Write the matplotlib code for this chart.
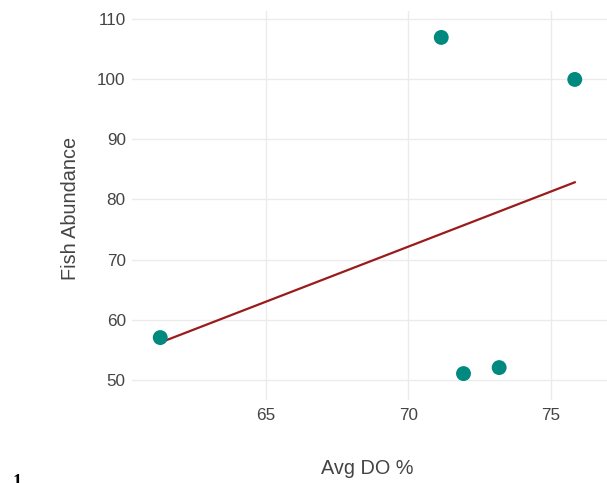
import numpy as np
import matplotlib
matplotlib.use("Agg")
import matplotlib.pyplot as plt

plt.rcParams['font.family'] = ['Liberation Sans', 'DejaVu Sans']

# avg dissolved oxygen (%) vs fish abundance per site
avg_do = [61.3, 71.15, 75.83, 71.93, 73.18]
fish = [57, 107, 100, 51, 52]

fig = plt.figure(figsize=(6.07, 4.83), dpi=100)
ax = fig.add_axes([132/607, 83/483, 475/607, 389/483])

# linear fit line
slope, icpt = np.polyfit(avg_do, fish, 1)
xs = np.array([min(avg_do), max(avg_do)])
ax.plot(xs, slope*xs + icpt, color='#9b1b1b', lw=1.6, zorder=2)
ax.scatter(avg_do, fish, s=115, color='#00897f', edgecolors='none', zorder=3)

ax.set_xlim(60.31, 76.96)
ax.set_ylim(46.6, 111.4)
ax.set_xticks([65, 70, 75])
ax.set_yticks([50, 60, 70, 80, 90, 100, 110])
ax.grid(True, color='#ebebeb', lw=1)
ax.set_axisbelow(True)
for s in ax.spines.values():
    s.set_visible(False)
ax.tick_params(length=0, labelsize=12.3, labelcolor='#444444')
ax.tick_params(axis='x', pad=6)
ax.tick_params(axis='y', pad=4.5)

fig.text(367/607, 1 - 468/483, 'Avg DO %', ha='center', va='center', fontsize=14.3, color='#444444')
fig.text(70/607, 1 - 208/483, 'Fish Abundance', ha='center', va='center', rotation=90, fontsize=14.3, color='#444444')
fig.text(17/607, 1 - 474/483, '1', ha='center', va='top', fontsize=13, fontweight='bold',
         family='Liberation Serif', color='black')

fig.savefig('out.png', dpi=100)
